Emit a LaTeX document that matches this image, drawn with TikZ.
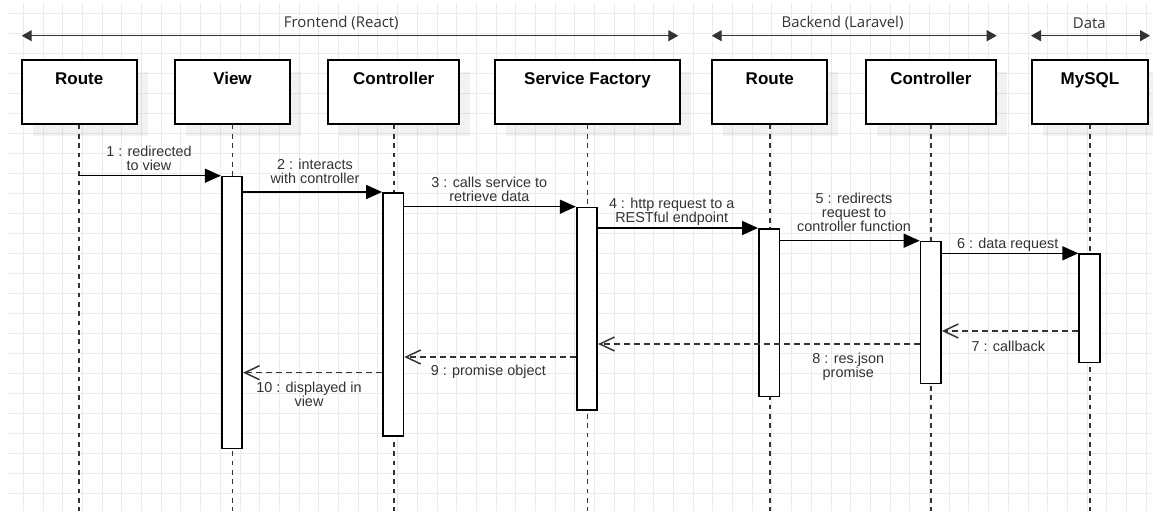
\documentclass[tikz,border=0pt]{standalone}
\usepackage{fontspec}
\setmainfont{Liberation Sans}
\newfontfamily\headfont{Open Sans}
\usepackage{tikz}
\usetikzlibrary{arrows.meta,shadows}

\definecolor{gridgray}{HTML}{EBEBEB}
\definecolor{inkgray}{HTML}{333333}

\tikzset{
gridline/.style={draw=gridgray,line width=0.75pt},
party/.style={rectangle,draw=black,fill=white,line width=1.3pt,anchor=north,inner sep=0pt,text height=18.4pt,text depth=29.2pt,font=\fontsize{12.75pt}{14pt}\selectfont\bfseries,drop shadow={shadow xshift=8.25pt,shadow yshift=-9pt,fill=black,opacity=0.05}},
lifeline/.style={draw=inkgray,line width=1.3pt,dash pattern=on 3.5pt off 3.5pt},
act/.style={rectangle,draw=black,fill=white,line width=1.3pt,anchor=north,minimum width=15.4pt,inner sep=0pt},
call/.style={draw=black,line width=1.1pt,-{Triangle[length=12pt,width=10.5pt]}},
reply/.style={draw=inkgray,line width=1.1pt,dash pattern=on 4.5pt off 3pt,-{Straight Barb[length=11pt,width=10.5pt]}},
msglabel/.style={text=inkgray,align=center,inner sep=0pt,font=\fontsize{10.8pt}{10.5pt}\selectfont},
span/.style={draw=inkgray,line width=0.9pt,{Triangle[length=7.5pt,width=8.25pt]}-{Triangle[length=7.5pt,width=8.25pt]}},
spanlabel/.style={text=inkgray,inner sep=0pt,font=\headfont\fontsize{11.2pt}{13pt}\selectfont}
}

\begin{document}
\begin{tikzpicture}[x=0.75pt,y=-0.75pt]
\useasboundingbox (0,0) rectangle (1153,511);
\fill[white] (0,0) rectangle (1153,511);
\foreach \i in {0,...,57} \draw[gridline] (23.3+19.7*\i,3) -- (23.3+19.7*\i,511);
\foreach \j in {0,...,24} \draw[gridline] (9,13.3+20*\j) -- (1153,13.3+20*\j);

\coordinate (feL) at (21.7,35.7);
\coordinate (feR) at (678.3,35.7);
\coordinate (beL) at (711.7,35.7);
\coordinate (beR) at (996.7,35.7);
\coordinate (dbL) at (1031,35.7);
\coordinate (dbR) at (1150,35.7);
\draw[span] (feL) -- (feR);
\draw[span] (beL) -- (beR);
\draw[span] (dbL) -- (dbR);
\node at (341.3,23)[spanlabel](fe){Frontend (React)};
\node at (842.5,23)[spanlabel](be){Backend (Laravel)};
\node at (1089.3,23)[spanlabel](db){Data};

\node at (79.2,59.3)[party,minimum width=86.25pt](route){Route};
\node at (232.5,59.3)[party,minimum width=86.25pt](view){View};
\node at (393.7,59.3)[party,minimum width=98.25pt](ctrl){Controller};
\node at (587.5,59.3)[party,minimum width=138.75pt](factory){Service Factory};
\node at (769.8,59.3)[party,minimum width=86.25pt](api){Route};
\node at (930.9,59.3)[party,minimum width=97.75pt](apictrl){Controller};
\node at (1090,59.3)[party,minimum width=86.5pt](mysql){MySQL};

\coordinate (bot) at (0,511);
\foreach \p in {route,view,ctrl,factory,api,apictrl,mysql}
  \draw[lifeline] (\p.south) -- (\p.south |- bot);

\node at (232,175.7)[act,minimum height=204pt](actview){};
\node at (393.2,192)[act,minimum height=182.25pt](actctrl){};
\node at (587,206.7)[act,minimum height=151.7pt](actfactory){};
\node at (769.2,228)[act,minimum height=125.8pt](actapi){};
\node at (930.8,240.7)[act,minimum height=106.5pt](actapictrl){};
\node at (1089.5,253.3)[act,minimum height=81.3pt](actmysql){};

\draw[call] (route.south |- actview.north) -- (actview.north west);
\draw[call] (actview.east |- actctrl.north) -- (actctrl.north west);
\draw[call] (actctrl.east |- actfactory.north) -- (actfactory.north west);
\draw[call] (actfactory.east |- actapi.north) -- (actapi.north west);
\draw[call] (actapi.east |- actapictrl.north) -- (actapictrl.north west);
\draw[call] (actapictrl.east |- actmysql.north) -- (actmysql.north west);

\coordinate (r7) at (0,331);
\coordinate (r8) at (0,344);
\coordinate (r9) at (0,357);
\coordinate (r10) at (0,372.7);
\draw[reply] (actmysql.west |- r7) -- (actapictrl.east |- r7);
\draw[reply] (actapictrl.west |- r8) -- (actfactory.east |- r8);
\draw[reply] (actfactory.west |- r9) -- (actctrl.east |- r9);
\draw[reply] (actctrl.west |- r10) -- (actview.east |- r10);

\node at (149,158.3)[msglabel](m1){1 : redirected\\to view};
\node at (315,171.3)[msglabel](m2){2 : interacts\\with controller};
\node at (489.3,189)[msglabel](m3){3 : calls service to\\retrieve data};
\node at (671.7,211.5)[msglabel](m4){4 : http request to a\\RESTful endpoint};
\node at (854,212.3)[msglabel](m5){5 : redirects\\request to\\controller function};
\node at (1007.7,244.3)[msglabel](m6){6 : data request};
\node at (1008.3,346)[msglabel](m7){7 : callback};
\node at (848.3,366.3)[msglabel](m8){8 : res.json\\promise};
\node at (488.3,372)[msglabel](m9){9 : promise object};
\node at (309,394.5)[msglabel](m10){10 : displayed in\\view};
\end{tikzpicture}
\end{document}
